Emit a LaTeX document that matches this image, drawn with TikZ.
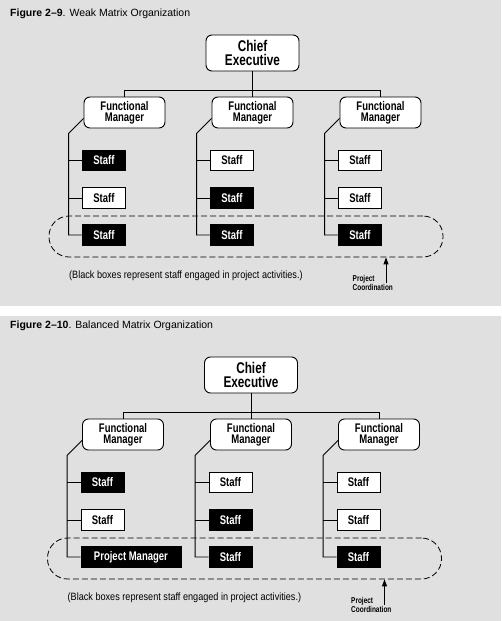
\documentclass[tikz,border=0pt]{standalone}
\usepackage{fontspec}
\setmainfont{Liberation Sans}
\newfontfamily\cond[FakeStretch=0.76]{Liberation Sans}
\newfontfamily\semicond[FakeStretch=0.86]{Liberation Sans}
\usetikzlibrary{arrows.meta}
\definecolor{bg}{gray}{0.88}
\tikzset{
  x=1pt,y=-1pt,
  ceo/.style={draw,fill=white,line width=0.9pt,rounded corners=6pt,inner sep=0pt,
    minimum width=93pt,minimum height=36pt,align=center,
    font=\cond\bfseries\fontsize{15.5}{14}\selectfont},
  mgr/.style={draw,fill=white,line width=0.9pt,rounded corners=6pt,inner sep=0pt,
    minimum width=81pt,minimum height=31pt,align=center,
    font=\cond\bfseries\fontsize{12.5}{11}\selectfont},
  staffbox/.style={draw,line width=0.9pt,inner sep=0pt,anchor=west,
    minimum width=43pt,minimum height=20.5pt,
    font=\cond\bfseries\fontsize{12.5}{12}\selectfont},
  lite/.style={staffbox,fill=white,text=black},
  dark/.style={staffbox,fill=black,text=white},
  link/.style={line width=0.9pt},
  coordbox/.style={draw,dash pattern=on 6pt off 3pt,line width=0.8pt,
    rounded corners=20pt,minimum width=394pt,minimum height=41pt,inner sep=0pt},
  note/.style={anchor=west,inner sep=0pt,font=\semicond\fontsize{10.6}{12}\selectfont},
  pclabel/.style={anchor=west,inner sep=0pt,align=left,
    font=\cond\bfseries\fontsize{8.5}{8.5}\selectfont},
  figtitle/.style={anchor=west,inner sep=0pt,font=\fontsize{10.5}{12}\selectfont},
}
% #1 prefix, #2 shift, #3 bottom-left box text, #4 its width
\newcommand\orgfig[4]{%
\begin{scope}[shift={#2}]
  \node[ceo] (#1ce) at (252.5,53) {Chief\\Executive};
  \node[mgr] (#1fm1) at (124.5,112.5) {Functional\\Manager};
  \node[mgr] (#1fm2) at (252.5,112.5) {Functional\\Manager};
  \node[mgr] (#1fm3) at (380.5,112.5) {Functional\\Manager};
  \coordinate (#1bar) at (252.5,90);
  \draw[link] (#1ce.south) -- (#1fm2.north);
  \draw[link] (#1fm1.north) -- (#1fm1.north |- #1bar) -- (#1fm3.north |- #1bar) -- (#1fm3.north);
  % column 1
  \node[dark] (#1s11) at (82,160.5) {Staff};
  \node[lite] (#1s12) at (82,198) {Staff};
  \node[dark,minimum width=#4] (#1s13) at (82,235) {#3};
  % column 2
  \node[lite] (#1s21) at (210,160.5) {Staff};
  \node[dark] (#1s22) at (210,198) {Staff};
  \node[dark] (#1s23) at (210,235) {Staff};
  % column 3
  \node[lite] (#1s31) at (338,160.5) {Staff};
  \node[lite] (#1s32) at (338,198) {Staff};
  \node[dark] (#1s33) at (338,235) {Staff};
  \foreach \c in {1,2,3}{
    \draw[link] ([yshift=10pt]#1fm\c.south west) -- ++(-15,15) coordinate (#1top\c)
      -- (#1top\c |- #1s\c3.west) -- (#1s\c3.west);
    \draw[link] (#1top\c |- #1s\c1.west) -- (#1s\c1.west);
    \draw[link] (#1top\c |- #1s\c2.west) -- (#1s\c2.west);
  }
  \node[coordbox] (#1coord) at (246,236.5) {};
  \node[note] (#1note) at (69,276) {(Black boxes represent staff engaged in project activities.)};
  \node[pclabel] (#1pc) at (352.5,283) {Project\\Coordination};
  \coordinate (#1arr) at (386,283);
  \draw[link,-{Triangle[length=7pt,width=5pt]}] (#1arr) -- (#1arr |- #1coord.south);
\end{scope}}
\begin{document}
\begin{tikzpicture}
  \useasboundingbox (0,0) rectangle (501,621);
  \fill[bg] (0,0) rectangle (501,306);
  \fill[bg] (0,316) rectangle (501,621);
  \node[figtitle] (t1) at (10,13.5) {\textbf{Figure 2--9}. Weak Matrix Organization};
  \node[figtitle] (t2) at (10,326) {\textbf{Figure 2--10}. Balanced Matrix Organization};
  \orgfig{a}{(0,0)}{Staff}{43pt}
  \orgfig{b}{(-1.5,322)}{Project Manager}{100pt}
\end{tikzpicture}
\end{document}
